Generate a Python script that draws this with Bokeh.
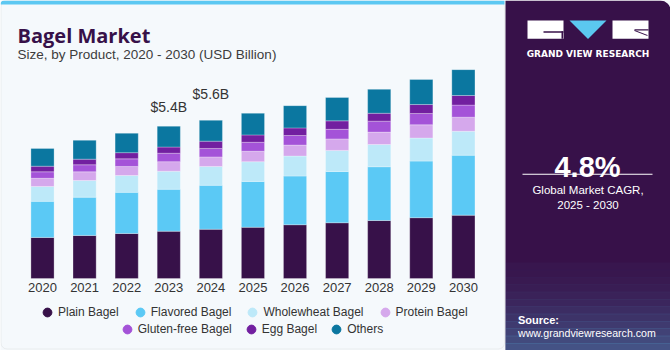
from bokeh.plotting import figure
from bokeh.models import (ColumnDataSource, Range1d, Label, BoxAnnotation,
                          PolyAnnotation, Legend, LegendItem)
from bokeh.embed import file_html
from bokeh.resources import INLINE
from bokeh.core.properties import value

# ---------------- data ----------------
years = ["2020", "2021", "2022", "2023", "2024", "2025", "2026", "2027", "2028", "2029", "2030"]
plain_bagel      = [1.46, 1.53, 1.60, 1.68, 1.75, 1.82, 1.91, 1.98, 2.06, 2.16, 2.25]
flavored_bagel   = [1.28, 1.36, 1.46, 1.49, 1.56, 1.63, 1.73, 1.82, 1.91, 2.01, 2.13]
wholewheat_bagel = [0.53, 0.59, 0.60, 0.64, 0.67, 0.70, 0.71, 0.75, 0.79, 0.82, 0.85]
protein_bagel    = [0.29, 0.31, 0.32, 0.34, 0.34, 0.37, 0.39, 0.41, 0.44, 0.47, 0.50]
gluten_free      = [0.23, 0.25, 0.27, 0.30, 0.30, 0.32, 0.34, 0.34, 0.39, 0.40, 0.43]
egg_bagel        = [0.20, 0.20, 0.22, 0.22, 0.26, 0.26, 0.27, 0.30, 0.28, 0.32, 0.34]
others           = [0.63, 0.67, 0.69, 0.74, 0.74, 0.77, 0.79, 0.83, 0.85, 0.89, 0.92]

series_keys = ["plain", "flavored", "wholewheat", "protein", "gluten", "egg", "others"]
series_names = ["Plain Bagel", "Flavored Bagel", "Wholewheat Bagel", "Protein Bagel",
                "Gluten-free Bagel", "Egg Bagel", "Others"]
colors = ["#371149", "#5bc9f5", "#bde9f9", "#d5a8ec", "#a453d8", "#721fa0", "#0b77a0"]

label_years = ["2023", "2024"]
label_texts = ["$5.4B", "$5.6B"]
label_offsets = [-19, -26]  # px above bar top

# ---------------- layout constants ----------------
W, H = 670, 350
BAR0_X, BAR_STEP = 42.0, 42.09        # px: centre of first bar, spacing
BASE_Y, PX_PER_UNIT = 278.0, 28.15    # px: baseline, px per USD billion
BG = "#f5f9fc"
FONT = "Liberation Sans"
DARK = "#371149"

# full-canvas frame; default ranges are canvas pixels (y downwards)
p = figure(width=W, height=H, x_range=Range1d(0, W), y_range=Range1d(H, 0),
           output_backend="svg", toolbar_location=None,
           x_axis_location=None, y_axis_location=None, min_border=0,
           background_fill_color=BG, border_fill_color=BG, outline_line_color=None)
p.xgrid.visible = False
p.ygrid.visible = False

# data ranges for the bars
p.extra_x_ranges = {"bx": Range1d(-BAR0_X / BAR_STEP, (W - BAR0_X) / BAR_STEP)}
p.extra_y_ranges = {"by": Range1d(-(H - BASE_Y) / PX_PER_UNIT, BASE_Y / PX_PER_UNIT)}


def box(x0, y0, x1, y1, color, alpha=1.0, line=None, radius=0, lw=1):
    p.add_layout(BoxAnnotation(left=x0, right=x1, top=y0, bottom=y1,
                               fill_color=color, fill_alpha=alpha,
                               line_color=line, line_width=lw, border_radius=radius))


def lab(txt, cx, cy, size, color, bold=False, align="left", font=FONT, baseline="alphabetic"):
    p.add_layout(Label(x=cx, y=cy, text=txt,
                       text_font=font, text_font_size=f"{size}px", text_color=color,
                       text_font_style="bold" if bold else "normal",
                       text_align=align, text_baseline=baseline))


# ---------------- left panel frame ----------------
box(0.5, 0.5, 504, 348.5, None, alpha=0, line="#d2d2d2", radius=6)
box(0, 0, 504, 4, "#5cc8f2", radius=(4, 0, 0, 0))

# ---------------- bars ----------------
xi = list(range(len(years)))
src = ColumnDataSource(dict(xi=xi, year=years, plain=plain_bagel, flavored=flavored_bagel,
                            wholewheat=wholewheat_bagel, protein=protein_bagel,
                            gluten=gluten_free, egg=egg_bagel, others=others))
p.vbar_stack(series_keys, x="xi", width=0.55, source=src, color=colors,
             line_color="white", line_alpha=0.35, line_width=0.8,
             x_range_name="bx", y_range_name="by")

# year tick labels under the bars
p.text(x="xi", y=0, text="year", source=src, x_range_name="bx", y_range_name="by",
       y_offset=4, text_align="center", text_baseline="top", text_font=value(FONT),
       text_font_size="13px", text_color="#333333")

totals = [sum(v) for v in zip(plain_bagel, flavored_bagel, wholewheat_bagel, protein_bagel,
                              gluten_free, egg_bagel, others)]
lab_src = ColumnDataSource(dict(x=[years.index(y) for y in label_years],
                                y=[totals[years.index(y)] for y in label_years],
                                text=label_texts, off=label_offsets))
p.text(x="x", y="y", text="text", y_offset="off", source=lab_src,
       x_range_name="bx", y_range_name="by", text_align="center",
       text_baseline="alphabetic", text_font=value(FONT), text_font_size="14px",
       text_color="#333333")

# ---------------- legend ----------------
# legend-only renderers: one point placed off the canvas
dummies = [p.scatter(x=[-500], y=[-500], marker="circle", size=9, fill_color=c, line_color=c)
           for c in colors]


def make_legend(idx, left, bottom, spacing):
    leg = Legend(items=[LegendItem(label=series_names[i], renderers=[dummies[i]]) for i in idx],
                 location=(left, H - bottom), orientation="horizontal",
                 border_line_color=None, background_fill_alpha=0, padding=0, margin=0,
                 spacing=spacing, glyph_width=22, glyph_height=22, label_standoff=0,
                 label_text_font=FONT, label_text_font_size="12px",
                 label_text_color="#333333")
    p.add_layout(leg)


make_legend([0, 1, 2, 3], 36, 323.3, 10)
make_legend([4, 5, 6], 115.7, 339.7, 8)

# ---------------- titles ----------------
lab("Bagel Market", 17, 35, 20, DARK, bold=True, font="Open Sans")
lab("Size, by Product, 2020 - 2030 (USD Billion)", 17, 54, 13.5, "#3c3c3c")

# ---------------- right panel ----------------
box(505, 0, 670, 350, DARK, radius=(0, 10, 0, 0))
n = 12
for i in range(n):
    y0 = 262 + i * (88 / n)
    box(505, y0, 670, y0 + 88 / n + 0.5, "#5bc8f0", alpha=0.03 + 0.33 * (i / (n - 1)) ** 1.6)

# logo
box(527, 20, 563, 38.3, "white")
box(543, 30.7, 563, 32.2, DARK)
box(561, 30.7, 562.5, 38.3, DARK)
p.add_layout(PolyAnnotation(xs=[569, 606, 587.5], ys=[20, 20, 38.5],
                            fill_color="#5bc8f0", fill_alpha=1, line_color=None))
box(612, 20, 648, 38.3, "white")
box(634, 28.8, 648, 30.0, DARK)
p.add_layout(PolyAnnotation(xs=[634, 647, 647, 634], ys=[29.5, 34.5, 35.5, 30.5],
                            fill_color=DARK, fill_alpha=1, line_color=None))
lab("GRAND VIEW RESEARCH", 587.5, 53, 9, "white", bold=True, align="center",
    font="DejaVu Sans")

lab("4.8%", 587, 166, 29, "white", bold=True, align="center")
box(522, 173.2, 652, 174.2, "white")
lab("Global Market CAGR,", 587.5, 189.5, 11.5, "white", align="center")
lab("2025 - 2030", 587.5, 204.5, 11.5, "white", align="center")
lab("Source:", 517.5, 319.5, 11, "white", bold=True)
lab("www.grandviewresearch.com", 517.5, 332.5, 10.6, "white")

open("out.html", "w").write(file_html(p, INLINE))
